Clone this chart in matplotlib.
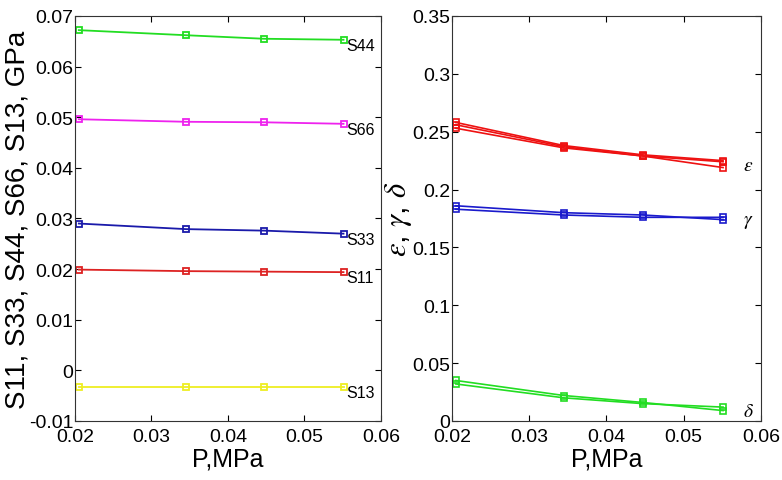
import matplotlib
matplotlib.use("Agg")
import matplotlib.pyplot as plt

# ---- data ----
pressure = [0.0205, 0.0345, 0.0447, 0.0551]

s44 = [0.0672, 0.0662, 0.0655, 0.0653]
s66 = [0.0496, 0.0491, 0.0490, 0.0487]
s33 = [0.0290, 0.0279, 0.0276, 0.0270]
s11 = [0.0199, 0.0196, 0.0195, 0.0194]
s13 = [-0.0032, -0.0032, -0.0032, -0.0032]

eps_a = [0.258, 0.238, 0.230, 0.225]
eps_b = [0.256, 0.237, 0.229, 0.224]
eps_c = [0.253, 0.236, 0.229, 0.219]
gam_a = [0.183, 0.178, 0.176, 0.176]
gam_b = [0.186, 0.180, 0.178, 0.174]
del_a = [0.032, 0.020, 0.015, 0.012]
del_b = [0.035, 0.022, 0.016, 0.009]

left_series = [("S44", s44, "#22dd22"), ("S66", s66, "#ee22ee"),
               ("S33", s33, "#1a1aaa"), ("S11", s11, "#dd2222"),
               ("S13", s13, "#eeee22")]
right_series = [(r"$\varepsilon$", [eps_a, eps_b, eps_c], "#ee1111"),
                (r"$\gamma$", [gam_a, gam_b], "#1a1acc"),
                (r"$\delta$", [del_a, del_b], "#22dd22")]

left_ticks = [-0.01, 0, 0.01, 0.02, 0.03, 0.04, 0.05, 0.06, 0.07]
left_ticklabels = ["-0.01", "0", "0.01", "0.02", "0.03", "0.04", "0.05", "0.06", "0.07"]
right_ticks = [0, 0.05, 0.1, 0.15, 0.2, 0.25, 0.3, 0.35]
right_ticklabels = ["0", "0.05", "0.1", "0.15", "0.2", "0.25", "0.3", "0.35"]
x_ticks = [0.02, 0.03, 0.04, 0.05, 0.06]
x_ticklabels = ["0.02", "0.03", "0.04", "0.05", "0.06"]

plt.rcParams["font.family"] = ["Liberation Sans", "DejaVu Sans"]
plt.rcParams["mathtext.fontset"] = "stix"

fig = plt.figure(figsize=(7.82, 4.81), dpi=100)
axL = fig.add_axes([0.0959, 0.1227, 0.3913, 0.842])
axR = fig.add_axes([0.578, 0.1227, 0.395, 0.842])

def style(ax, yticks, ylabels, ylim):
    ax.set_xlim(0.02, 0.06)
    ax.set_ylim(*ylim)
    ax.set_xticks(x_ticks)
    ax.set_xticklabels(x_ticklabels, fontsize=14)
    ax.set_yticks(yticks)
    ax.set_yticklabels(ylabels, fontsize=14)
    ax.tick_params(axis="y", direction="in", right=True, length=4, width=0.8, pad=1)
    ax.tick_params(axis="x", direction="in", top=True, length=4, width=0.8, pad=5)
    for s in ax.spines.values():
        s.set_linewidth(0.8)
        s.set_color("#333333")
    ax.set_xlabel("P,MPa", fontsize=18, labelpad=1)

for name, vals, c in left_series:
    axL.plot(pressure, vals, color=c, lw=1.3, marker="s", ms=5, mfc="none", mew=1.3)
    axL.text(pressure[-1] + 0.0003, vals[-1] - 0.0011, name, fontsize=11.5,
             ha="left", va="center", color="black")
style(axL, left_ticks, left_ticklabels, (-0.01, 0.07))
axL.set_ylabel("S11, S33, S44, S66, S13, GPa", fontsize=20, labelpad=-1)

for name, group, c in right_series:
    for vals in group:
        axR.plot(pressure, vals, color=c, lw=1.2, marker="s", ms=5, mfc="none", mew=1.2)
    axR.text(0.0577, group[0][-1] - 0.004, name, fontsize=14, ha="left", va="center",
             color="black")
style(axR, right_ticks, right_ticklabels, (0, 0.35))
axR.set_ylabel(r"$\varepsilon$, $\gamma$, $\delta$", fontsize=22, labelpad=-1)

fig.savefig("out.png", dpi=100)
